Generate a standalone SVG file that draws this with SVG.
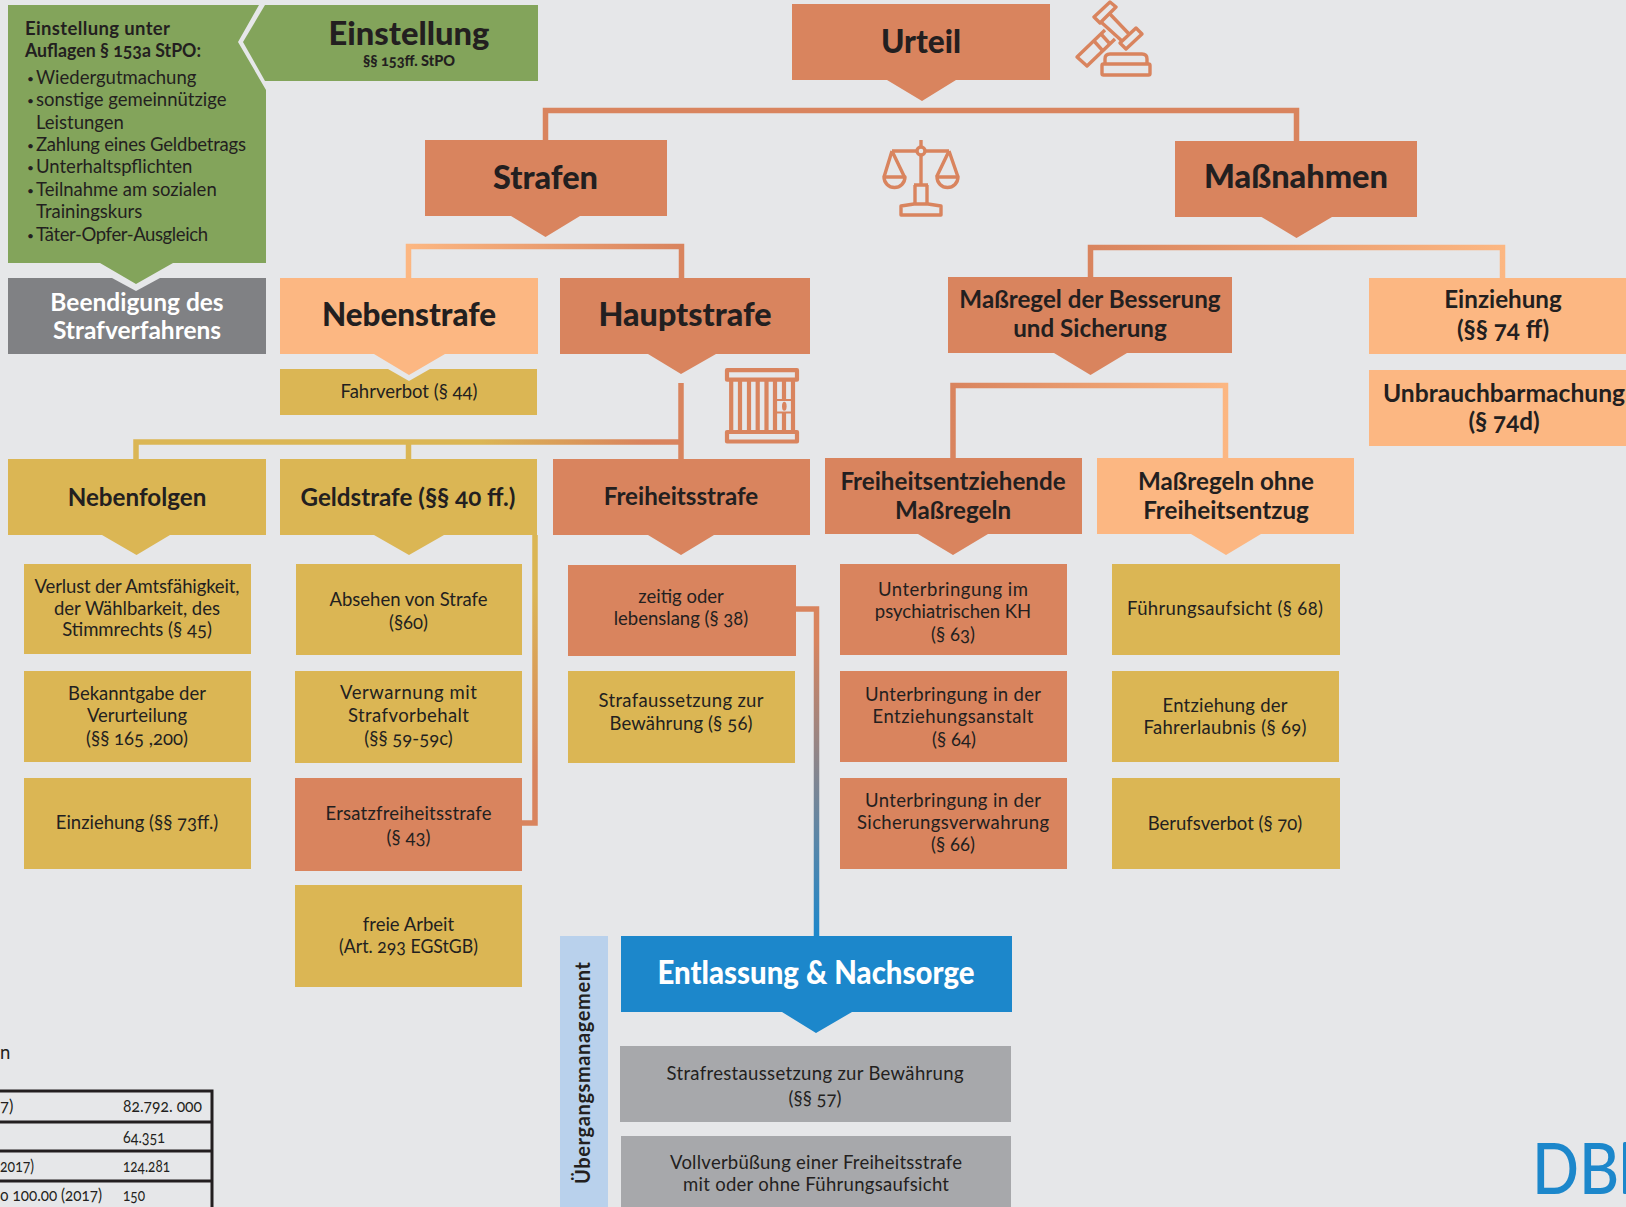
<svg xmlns="http://www.w3.org/2000/svg" width="1626" height="1207" viewBox="0 0 1626 1207">
<style>
text{font-family:"Lato","Noto Sans",sans-serif;fill:#231f20;text-anchor:middle;font-variant-numeric:oldstyle-nums}
.o{fill:#d9845e}.p{fill:#fcb782}.g{fill:#dbb654}.gr{fill:#83a45b}.b{fill:#1c87cb}.lg{fill:#a7a8ab}
.h1{font-size:32px;font-weight:900}.h2{font-size:24.200px;font-weight:700}.h3{font-size:24.200px;font-weight:700}
.t{font-size:18.500px}.w{fill:#fff}
.l{text-anchor:start}.bu{font-size:12px}
.n{font-size:16.500px}
.c{fill:none;stroke-width:5.500}
.i{fill:none;stroke:#d9845e;stroke-width:3.400;stroke-linejoin:round}
.gap{fill:#e6e7e9}
</style>
<defs>
<linearGradient id="a1" gradientUnits="userSpaceOnUse" x1="408" y1="0" x2="681" y2="0"><stop offset="0" stop-color="#fcb782"/><stop offset="1" stop-color="#d9845e"/></linearGradient>
<linearGradient id="a2" gradientUnits="userSpaceOnUse" x1="1090" y1="0" x2="1503" y2="0"><stop offset="0" stop-color="#d9845e"/><stop offset="1" stop-color="#fcb782"/></linearGradient>
<linearGradient id="a3" gradientUnits="userSpaceOnUse" x1="953" y1="0" x2="1226" y2="0"><stop offset="0" stop-color="#d9845e"/><stop offset="1" stop-color="#fcb782"/></linearGradient>
<linearGradient id="a4" gradientUnits="userSpaceOnUse" x1="136" y1="0" x2="681" y2="0"><stop offset="0" stop-color="#dbb654"/><stop offset="0.63" stop-color="#dbb654"/><stop offset="0.93" stop-color="#d9845e"/></linearGradient>
<linearGradient id="a5" gradientUnits="userSpaceOnUse" x1="0" y1="640" x2="0" y2="936"><stop offset="0" stop-color="#d9845e"/><stop offset="1" stop-color="#1c87cb"/></linearGradient>
<linearGradient id="a6" gradientUnits="userSpaceOnUse" x1="0" y1="590" x2="0" y2="770"><stop offset="0" stop-color="#dbb654"/><stop offset="1" stop-color="#d9845e"/></linearGradient>
</defs>
<rect width="1626" height="1207" fill="#e6e7e9"/>

<g id="connectors">
<path class="c" stroke="#d9845e" d="M545.500 141V110.500H1296.500V141"/>
<path class="c" stroke="url(#a1)" d="M408.500 278V246.500H681.500V278"/>
<path class="c" stroke="url(#a2)" d="M1090.500 278V247.500H1502.500V278"/>
<path class="c" stroke="url(#a3)" d="M953 458V385.500H1225.500V458"/>
<path class="c" stroke="#d9845e" d="M681 383V459"/>
<path class="c" stroke="url(#a4)" d="M136 459V442H681"/>
<path class="c" stroke="#dbb654" d="M408.500 442V459"/>
<path class="c" stroke="url(#a6)" d="M535 535V823H522"/>
<path class="c" stroke="url(#a5)" d="M796 609H816.500V936"/>
</g>

<g id="beendigung">
<rect x="8" y="278" width="258" height="76" fill="#808184"/>
<path class="gap" d="M112 278L136 291L160 278Z"/>
<text class="h3 w" x="137" y="311" style="font-size:24.500px">Beendigung des</text>
<text class="h3 w" x="137" y="339" style="font-size:24.500px">Strafverfahrens</text>
</g>
<g id="einstellung-auflagen">
<path class="gr" d="M8 5H259L238 42L266 90V263H173L136 284L100 263H8Z"/>
<text class="l" x="25" y="35" textLength="145" style="font-size:18.500px;font-weight:700">Einstellung unter</text>
<text class="l" x="25" y="57" textLength="176" lengthAdjust="spacingAndGlyphs" style="font-size:18.500px;font-weight:700">Auflagen § 153a StPO:</text>
<text class="l bu" x="27" y="83">•</text><text class="l t" x="36" y="84">Wiedergutmachung</text>
<text class="l bu" x="27" y="105">•</text><text class="l t" x="36" y="106">sonstige gemeinnützige</text>
<text class="l t" x="36" y="129">Leistungen</text>
<text class="l bu" x="27" y="150">•</text><text class="l t" x="36" y="151" textLength="210">Zahlung eines Geldbetrags</text>
<text class="l bu" x="27" y="172">•</text><text class="l t" x="36" y="173">Unterhaltspflichten</text>
<text class="l bu" x="27" y="195">•</text><text class="l t" x="36" y="196">Teilnahme am sozialen</text>
<text class="l t" x="36" y="218">Trainingskurs</text>
<text class="l bu" x="27" y="240">•</text><text class="l t" x="36" y="241" textLength="172">Täter-Opfer-Ausgleich</text>
</g>
<g id="einstellung">
<path class="gr" d="M265 5H538V81H265L243 42Z"/>
<text class="h1" x="409" y="45" textLength="161" lengthAdjust="spacingAndGlyphs">Einstellung</text>
<text x="409" y="66" style="font-size:14.500px;font-weight:900">§§ 153ff. StPO</text>
</g>

<g id="urteil">
<path class="o" d="M792 4H1050V80H956L922 101L887 80H792Z"/>
<text class="h1" x="921" y="53" textLength="80" lengthAdjust="spacingAndGlyphs">Urteil</text>
</g>
<g id="gavel" class="i">
<path d="M1110 2L1116 7L1100 23L1094 17Z"/>
<path d="M1136 28L1142 34L1126 49L1120 43Z"/>
<path d="M1109 13L1130 35M1101 22L1122 41"/>
<path d="M1105 30L1077 57L1087 66L1115 39"/>
<path d="M1101 34L1110 44M1094 41L1103 51"/>
<path d="M1105 63V59Q1105 54 1110 54H1142Q1147 54 1147 59V63"/>
<rect x="1102" y="64" width="48" height="11" rx="1.500"/>
</g>
<g id="scales" class="i">
<path d="M921 140V147M921 155V185M892 151H917M925 151H949"/>
<circle cx="921" cy="151" r="4"/>
<path d="M892 151L884 177M892 151L904.500 177M949 151L936.500 177M949 151L958 177"/>
<path d="M884 177A10.500 10.500 0 0 0 905 177ZM937 177A10.500 10.500 0 0 0 958 177Z"/>
<path d="M915 185V203M927 185V203M914 185H928"/>
<path d="M901 206L914 204H928L941 206V215H901Z"/>
</g>

<g id="strafen">
<path class="o" d="M425 140H667V216H580L545.500 237L511 216H425Z"/>
<text class="h1" x="545.500" y="189" textLength="105" lengthAdjust="spacingAndGlyphs">Strafen</text>
</g>
<g id="massnahmen">
<path class="o" d="M1175 141H1417V217H1332L1296.500 238L1261.500 217H1175Z"/>
<text class="h1" x="1296" y="188" textLength="184" lengthAdjust="spacingAndGlyphs">Maßnahmen</text>
</g>

<g id="fahrverbot">
<rect class="g" x="280" y="369" width="257" height="46"/>
<path class="gap" d="M388 369L409 381L430 369Z"/>
<text class="t" x="409" y="398">Fahrverbot (§ 44)</text>
</g>
<g id="nebenstrafe">
<path class="p" d="M280 278H538V354H445L409 375L374 354H280Z"/>
<text class="h1" x="409" y="326" textLength="174" lengthAdjust="spacingAndGlyphs">Nebenstrafe</text>
</g>
<g id="hauptstrafe">
<path class="o" d="M560 278H810V354H716L681 374L648 354H560Z"/>
<text class="h1" x="685" y="326" textLength="173" lengthAdjust="spacingAndGlyphs">Hauptstrafe</text>
</g>
<g id="prison" class="i" style="stroke-width:4.200">
<rect x="727" y="370.200" width="70" height="9.500"/>
<rect x="727" y="432" width="70" height="9.500"/>
<path d="M731.200 380V432M740 380V432M749 380V432M757.700 380V432M766.500 380V432M775 380V432M793 380V432M784 380V399M784 413V432"/>
<path d="M777 400H791M777 412.500H791" style="stroke-width:2"/>
<ellipse cx="784.300" cy="406.200" rx="2.300" ry="4.500" style="fill:#d9845e;stroke:none"/>
</g>
<g id="massregel">
<path class="o" d="M948 277H1232V353H1127L1090.500 375L1054 353H948Z"/>
<text class="h3" x="1090" y="308">Maßregel der Besserung</text>
<text class="h3" x="1090" y="337">und Sicherung</text>
</g>
<g id="einziehung">
<rect class="p" x="1369" y="278" width="257" height="76"/>
<text class="h3" x="1503" y="308">Einziehung</text>
<text class="h3" x="1503" y="338">(§§ 74 ff)</text>
</g>
<g id="unbrauchbarmachung">
<rect class="p" x="1369" y="370" width="257" height="76"/>
<text class="h3" x="1504" y="402" textLength="242" lengthAdjust="spacingAndGlyphs">Unbrauchbarmachung</text>
<text class="h3" x="1504" y="430">(§ 74d)</text>
</g>

<g id="nebenfolgen">
<path class="g" d="M8 459H266V535H170L136.500 555L102 535H8Z"/>
<text class="h2" x="137" y="506">Nebenfolgen</text>
</g>
<g id="geldstrafe">
<path class="g" d="M280 459H537V535H444L409 555L374 535H280Z"/>
<text class="h2" x="408" y="506">Geldstrafe (§§ 40 ff.)</text>
</g>
<g id="freiheitsstrafe">
<path class="o" d="M553 459H810V535H714L681 555L648 535H553Z"/>
<text class="h2" x="681" y="505">Freiheitsstrafe</text>
</g>
<g id="freiheitsentziehende">
<path class="o" d="M825 458H1082V534H988L953 555L918 534H825Z"/>
<text class="h3" x="953" y="490">Freiheitsentziehende</text>
<text class="h3" x="953" y="519">Maßregeln</text>
</g>
<g id="ohne">
<path class="p" d="M1097 458H1354V534H1261L1226 555L1191 534H1097Z"/>
<text class="h3" x="1226" y="490">Maßregeln ohne</text>
<text class="h3" x="1226" y="519">Freiheitsentzug</text>
</g>

<g id="verlust"><rect class="g" x="24" y="564" width="227" height="90"/>
<text class="t" x="137" y="593" textLength="205">Verlust der Amtsfähigkeit,</text><text class="t" x="137" y="615">der Wählbarkeit, des</text><text class="t" x="137" y="636">Stimmrechts (§ 45)</text></g>
<g id="bekanntgabe"><rect class="g" x="24" y="671" width="227" height="91"/>
<text class="t" x="137" y="700">Bekanntgabe der</text><text class="t" x="137" y="722">Verurteilung</text><text class="t" x="137" y="745">(§§ 165 ,200)</text></g>
<g id="einziehung2"><rect class="g" x="24" y="778" width="227" height="91"/>
<text class="t" x="137" y="829">Einziehung (§§ 73ff.)</text></g>

<g id="absehen"><rect class="g" x="296" y="564" width="226" height="91"/>
<text class="t" x="408.500" y="606">Absehen von Strafe</text><text class="t" x="408.500" y="629">(§60)</text></g>
<g id="verwarnung"><rect class="g" x="295" y="671" width="227" height="92"/>
<text class="t" x="408.500" y="699" textLength="137">Verwarnung mit</text><text class="t" x="408.500" y="722" textLength="121">Strafvorbehalt</text><text class="t" x="408.500" y="745">(§§ 59-59c)</text></g>
<g id="ersatz"><rect class="o" x="295" y="778" width="227" height="93"/>
<text class="t" x="408.500" y="820" textLength="166">Ersatzfreiheitsstrafe</text><text class="t" x="408.500" y="844">(§ 43)</text></g>
<g id="freiearbeit"><rect class="g" x="295" y="885" width="227" height="102"/>
<text class="t" x="408.500" y="931">freie Arbeit</text><text class="t" x="408.500" y="953" textLength="139" lengthAdjust="spacingAndGlyphs">(Art. 293 EGStGB)</text></g>

<g id="zeitig"><rect class="o" x="568" y="565" width="228" height="91"/>
<text class="t" x="681" y="603">zeitig oder</text><text class="t" x="681" y="625">lebenslang (§ 38)</text></g>
<g id="aussetzung"><rect class="g" x="568" y="671" width="227" height="92"/>
<text class="t" x="681" y="707" textLength="165">Strafaussetzung zur</text><text class="t" x="681" y="730" textLength="143">Bewährung (§ 56)</text></g>

<g id="psych"><rect class="o" x="840" y="564" width="227" height="91"/>
<text class="t" x="953" y="596" textLength="150">Unterbringung im</text><text class="t" x="953" y="618">psychiatrischen KH</text><text class="t" x="953" y="641">(§ 63)</text></g>
<g id="entzug"><rect class="o" x="840" y="671" width="227" height="91"/>
<text class="t" x="953" y="701" textLength="176">Unterbringung in der</text><text class="t" x="953" y="723" textLength="161">Entziehungsanstalt</text><text class="t" x="954" y="746">(§ 64)</text></g>
<g id="sicherung"><rect class="o" x="840" y="778" width="227" height="91"/>
<text class="t" x="953" y="807" textLength="176">Unterbringung in der</text><text class="t" x="953" y="829" textLength="192">Sicherungsverwahrung</text><text class="t" x="953" y="851">(§ 66)</text></g>

<g id="fuehrung"><rect class="g" x="1112" y="564" width="228" height="91"/>
<text class="t" x="1225" y="615" textLength="196">Führungsaufsicht (§ 68)</text></g>
<g id="fahrerlaubnis"><rect class="g" x="1112" y="671" width="227" height="91"/>
<text class="t" x="1225" y="712" textLength="125">Entziehung der</text><text class="t" x="1225" y="734" textLength="163">Fahrerlaubnis (§ 69)</text></g>
<g id="berufsverbot"><rect class="g" x="1112" y="778" width="228" height="91"/>
<text class="t" x="1225" y="830">Berufsverbot (§ 70)</text></g>

<g id="uebergang">
<rect x="560" y="936" width="48" height="271" fill="#b9d1ec"/>
<text transform="translate(590 1073) rotate(-90)" textLength="222" style="font-size:20px;font-weight:700">Übergangsmanagement</text>
</g>
<g id="entlassung">
<path class="b" d="M621 936H1012V1012H852L816 1033L782 1012H621Z"/>
<text class="h1 w" x="816" y="984" textLength="317" lengthAdjust="spacingAndGlyphs">Entlassung &amp; Nachsorge</text>
</g>
<g id="strafrest"><rect class="lg" x="620" y="1046" width="391" height="76"/>
<text class="t" x="815" y="1080" textLength="297">Strafrestaussetzung zur Bewährung</text><text class="t" x="815" y="1105">(§§ 57)</text></g>
<g id="vollverbuessung"><rect class="lg" x="621" y="1136" width="390" height="71"/>
<text class="t" x="816" y="1169" textLength="292">Vollverbüßung einer Freiheitsstrafe</text><text class="t" x="816" y="1191" textLength="266">mit oder ohne Führungsaufsicht</text></g>

<g id="tabelle">
<text class="l t" x="0" y="1059">n</text>
<path d="M-2 1091H212V1210M-2 1122H212M-2 1151H212M-2 1181H212" fill="none" stroke="#231f20" stroke-width="3"/>
<text class="l n" x="0" y="1112">7)</text>
<text class="l n" x="123" y="1112" textLength="79" lengthAdjust="spacingAndGlyphs">82.792. 000</text>
<text class="l n" x="123" y="1143" textLength="42" lengthAdjust="spacingAndGlyphs">64.351</text>
<text class="l n" x="0" y="1172" textLength="34" lengthAdjust="spacingAndGlyphs">2017)</text>
<text class="l n" x="123" y="1172" textLength="47" lengthAdjust="spacingAndGlyphs">124.281</text>
<text class="l n" x="0" y="1201" textLength="102" lengthAdjust="spacingAndGlyphs">o 100.00 (2017)</text>
<text class="l n" x="123" y="1201" textLength="22" lengthAdjust="spacingAndGlyphs">150</text>
</g>
<g id="logo">
<text class="l" transform="translate(1532 1194) scale(0.86 1)" style="font-size:72px;font-weight:500;fill:#1c87cb;font-variant-numeric:normal">DB</text>
<rect x="1623" y="1142" width="4" height="52" rx="1.500" class="b"/>
</g>
</svg>
